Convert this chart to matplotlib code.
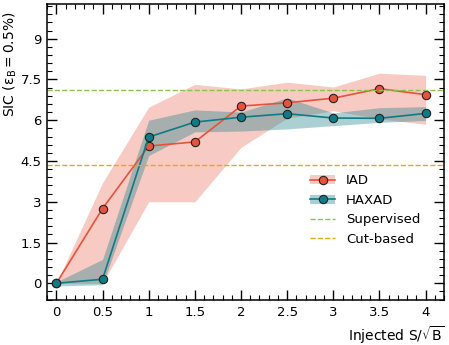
import matplotlib
matplotlib.use("Agg")
import matplotlib.pyplot as plt
from matplotlib.ticker import AutoMinorLocator

# injected signal significance
s_over_sqrtb = [0, 0.5, 1, 1.5, 2, 2.5, 3, 3.5, 4]

# IAD: median SIC and band
iad_sic = [0.0, 2.75, 5.05, 5.2, 6.52, 6.64, 6.81, 7.16, 6.94]
iad_low = [0.0, 0.0, 3.0, 3.0, 5.0, 6.08, 6.35, 6.05, 5.85]
iad_high = [0.0, 3.7, 6.48, 7.32, 7.15, 7.4, 7.22, 7.73, 7.65]

# HAXAD: median SIC and band
haxad_sic = [0.0, 0.15, 5.38, 5.93, 6.11, 6.24, 6.08, 6.07, 6.25]
haxad_low = [-0.1, -0.05, 4.7, 5.57, 5.6, 5.68, 5.8, 5.92, 5.99]
haxad_high = [0.05, 0.88, 6.0, 6.38, 6.3, 6.82, 6.27, 6.46, 6.5]

sic_supervised = 7.12
sic_cut = 4.35

c_iad = '#e5533c'
c_haxad = '#0f7b85'

fig = plt.figure(figsize=(4.49, 3.45), dpi=100)
ax = fig.add_axes([0.105, 0.130, 0.884, 0.858])

f1 = ax.fill_between(s_over_sqrtb, iad_low, iad_high, color=c_iad, alpha=0.3, lw=0)
l1, = ax.plot(s_over_sqrtb, iad_sic, color=c_iad, lw=1.2, marker='o', ms=6,
              mfc=c_iad, mec='#222222', mew=0.8)
f2 = ax.fill_between(s_over_sqrtb, haxad_low, haxad_high, color=c_haxad, alpha=0.35, lw=0)
l2, = ax.plot(s_over_sqrtb, haxad_sic, color=c_haxad, lw=1.2, marker='o', ms=6,
              mfc=c_haxad, mec='#222222', mew=0.8)
l3 = ax.axhline(sic_supervised, color='#8bc34a', ls='--', lw=1)
l4 = ax.axhline(sic_cut, color='#e6a817', ls='--', lw=1)

ax.set_xlim(-0.1, 4.2)
ax.set_ylim(-0.62, 10.27)
ax.xaxis.set_minor_locator(AutoMinorLocator(5))
ax.yaxis.set_minor_locator(AutoMinorLocator(5))
ax.set_xticks(s_over_sqrtb)
ax.set_xticklabels(['0', '0.5', '1', '1.5', '2', '2.5', '3', '3.5', '4'])
ax.set_yticks([0, 1.5, 3, 4.5, 6, 7.5, 9])
ax.set_yticklabels(['0', '1.5', '3', '4.5', '6', '7.5', '9'])
ax.tick_params(which='both', direction='in', top=True, right=True, labelsize=9.5)
ax.tick_params(which='major', length=7, width=1, pad=4)
ax.tick_params(which='minor', length=3.5, width=0.8)
for sp in ax.spines.values():
    sp.set_linewidth(1.1)

ax.set_xlabel(r'Injected $\mathrm{S}/\sqrt{\mathrm{B}}$', fontsize=10, loc='right')
ax.set_ylabel(r'SIC ($\mathrm{\varepsilon}_\mathrm{B} = 0.5\%$)', fontsize=10, loc='top')
ax.yaxis.set_label_coords(-0.072, 0.975)

ax.legend([(f1, l1), (f2, l2), l3, l4], ['IAD', 'HAXAD', 'Supervised', 'Cut-based'],
          loc='upper left', bbox_to_anchor=(0.65, 0.443), borderaxespad=0,
          frameon=False, fontsize=9.5, handlelength=1.9, handletextpad=0.8)

fig.savefig('out.png', dpi=100)
